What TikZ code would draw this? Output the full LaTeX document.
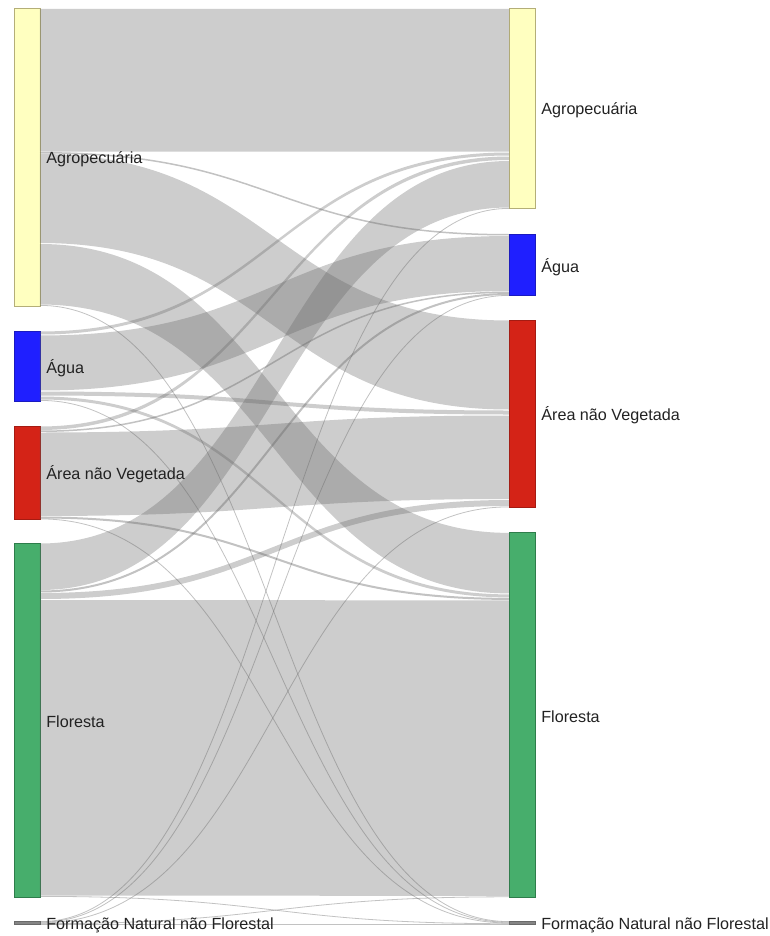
\documentclass[tikz,border=0pt]{standalone}
\usepackage{fontspec}
\setmainfont{Liberation Sans}
\usetikzlibrary{calc,positioning}
\definecolor{agroYellow}{HTML}{FFFFC0}
\definecolor{agroYellowLine}{HTML}{B4AE78}
\definecolor{aguaBlue}{HTML}{1F1FFF}
\definecolor{aguaBlueLine}{HTML}{1A1AC0}
\definecolor{areaRed}{HTML}{D42317}
\definecolor{areaRedLine}{HTML}{A51B12}
\definecolor{florGreen}{HTML}{47AE6C}
\definecolor{florGreenLine}{HTML}{2E7D4B}
\definecolor{fnnfGrey}{HTML}{858585}
\definecolor{fnnfGreyLine}{HTML}{6A6A6A}
\definecolor{linkGrey}{HTML}{666666}
\definecolor{labelInk}{HTML}{222222}
\tikzset{
  classbar/.style n args={3}{rectangle, draw=#1, fill=#2, line width=0.5pt, inner sep=0pt, outer sep=0pt, anchor=north west, minimum width=0.52cm, minimum height=#3*0.02cm},
  classlabel/.style={font=\fontsize{9.2}{11}\selectfont, text=labelInk, inner sep=0pt, anchor=west, yshift=-0.04cm},
  linkband/.style={fill=linkGrey, fill opacity=0.33},
  linkline/.style={draw=linkGrey, draw opacity=0.4},
}
% band: source node, offset, target node, offset, width (all in px)
\newcommand{\flowband}[5]{%
  \path (#1.north east) ++(0,#2+0.5) coordinate (s1) ++(0,#5-1) coordinate (s2);
  \path (#3.north west) ++(0,#4+0.5) coordinate (t1) ++(0,#5-1) coordinate (t2);
  \fill[linkband] (s1) .. controls (s1 -| mid) and (t1 -| mid) .. (t1) -- (t2) .. controls (t2 -| mid) and (s2 -| mid) .. (s2) -- cycle;
}
% thin flow drawn as a line
\newcommand{\flowline}[5]{%
  \path (#1.north east) ++(0,#2+#5/2) coordinate (s1);
  \path (#3.north west) ++(0,#4+#5/2) coordinate (t1);
  \draw[linkline, line width=#5*0.02cm] (s1) .. controls (s1 -| mid) and (t1 -| mid) .. (t1);
}

\begin{document}
\begin{tikzpicture}[x=0.02cm,y=-0.02cm]
  \useasboundingbox (0,0) rectangle (769,936);
  \coordinate (mid) at (274.5,0);

  % Left column: classes at the start
  \node[classbar={agroYellowLine}{agroYellow}{297.5}] (lagro) at (14,8.5) {};
  \node[classbar={aguaBlueLine}{aguaBlue}{70}] (lagua) at (14,331) {};
  \node[classbar={areaRedLine}{areaRed}{93}] (larea) at (14,426) {};
  \node[classbar={florGreenLine}{florGreen}{354}] (lflor) at (14,543) {};
  \node[classbar={fnnfGreyLine}{fnnfGrey}{3.5}] (lfnnf) at (14,921.2) {};

  % Right column: classes at the end
  \node[classbar={agroYellowLine}{agroYellow}{200.1}] (ragro) at (509,8.5) {};
  \node[classbar={aguaBlueLine}{aguaBlue}{61.6}] (ragua) at (509,234) {};
  \node[classbar={areaRedLine}{areaRed}{187.1}] (rarea) at (509,320) {};
  \node[classbar={florGreenLine}{florGreen}{364.6}] (rflor) at (509,532.4) {};
  \node[classbar={fnnfGreyLine}{fnnfGrey}{3.5}] (rfnnf) at (509,921.2) {};

  % Flows from Agropecuaria
  \flowband{lagro}{0}{ragro}{0}{143.5}
  \flowline{lagro}{143.5}{ragua}{0}{1.5}
  \flowband{lagro}{145}{rarea}{0}{90}
  \flowband{lagro}{235}{rflor}{0}{61.5}
  \flowline{lagro}{296.5}{rfnnf}{0}{0.8}

  % Flows from Agua
  \flowband{lagua}{0}{ragro}{143.5}{4}
  \flowband{lagua}{4}{ragua}{1.5}{56}
  \flowband{lagua}{60}{rarea}{90}{5}
  \flowband{lagua}{65}{rflor}{61.5}{4}
  \flowline{lagua}{69}{rfnnf}{0.7}{0.8}

  % Flows from Area nao Vegetada
  \flowband{larea}{0}{ragro}{147.5}{4.5}
  \flowline{larea}{4.5}{ragua}{57.5}{1.5}
  \flowband{larea}{6}{rarea}{95}{84.5}
  \flowline{larea}{90.5}{rflor}{65.5}{2}
  \flowline{larea}{92.5}{rfnnf}{1.4}{0.8}

  % Flows from Floresta
  \flowband{lflor}{0}{ragro}{152}{47.5}
  \flowline{lflor}{47.5}{ragua}{59}{2}
  \flowband{lflor}{49.5}{rarea}{179.5}{7}
  \flowband{lflor}{56.5}{rflor}{67.5}{296.5}
  \flowline{lflor}{353}{rfnnf}{2.1}{0.8}

  % Flows from Formacao Natural nao Florestal
  \flowline{lfnnf}{0}{ragro}{199.5}{0.8}
  \flowline{lfnnf}{0.7}{ragua}{61}{0.8}
  \flowline{lfnnf}{1.4}{rarea}{186.5}{0.8}
  \flowline{lfnnf}{2.1}{rflor}{364}{0.8}
  \flowline{lfnnf}{2.8}{rfnnf}{2.8}{0.8}

  % Labels
  \node[classlabel, right=0.12cm of lagro] (lagrolbl) {Agropecuária};
  \node[classlabel, right=0.12cm of lagua] (lagualbl) {Água};
  \node[classlabel, right=0.12cm of larea] (larealbl) {Área não Vegetada};
  \node[classlabel, right=0.12cm of lflor] (lflorlbl) {Floresta};
  \node[classlabel, right=0.12cm of lfnnf] (lfnnflbl) {Formação Natural não Florestal};
  \node[classlabel, right=0.12cm of ragro] (ragrolbl) {Agropecuária};
  \node[classlabel, right=0.12cm of ragua] (ragualbl) {Água};
  \node[classlabel, right=0.12cm of rarea] (rarealbl) {Área não Vegetada};
  \node[classlabel, right=0.12cm of rflor] (rflorlbl) {Floresta};
  \node[classlabel, right=0.12cm of rfnnf] (rfnnflbl) {Formação Natural não Florestal};
\end{tikzpicture}
\end{document}
